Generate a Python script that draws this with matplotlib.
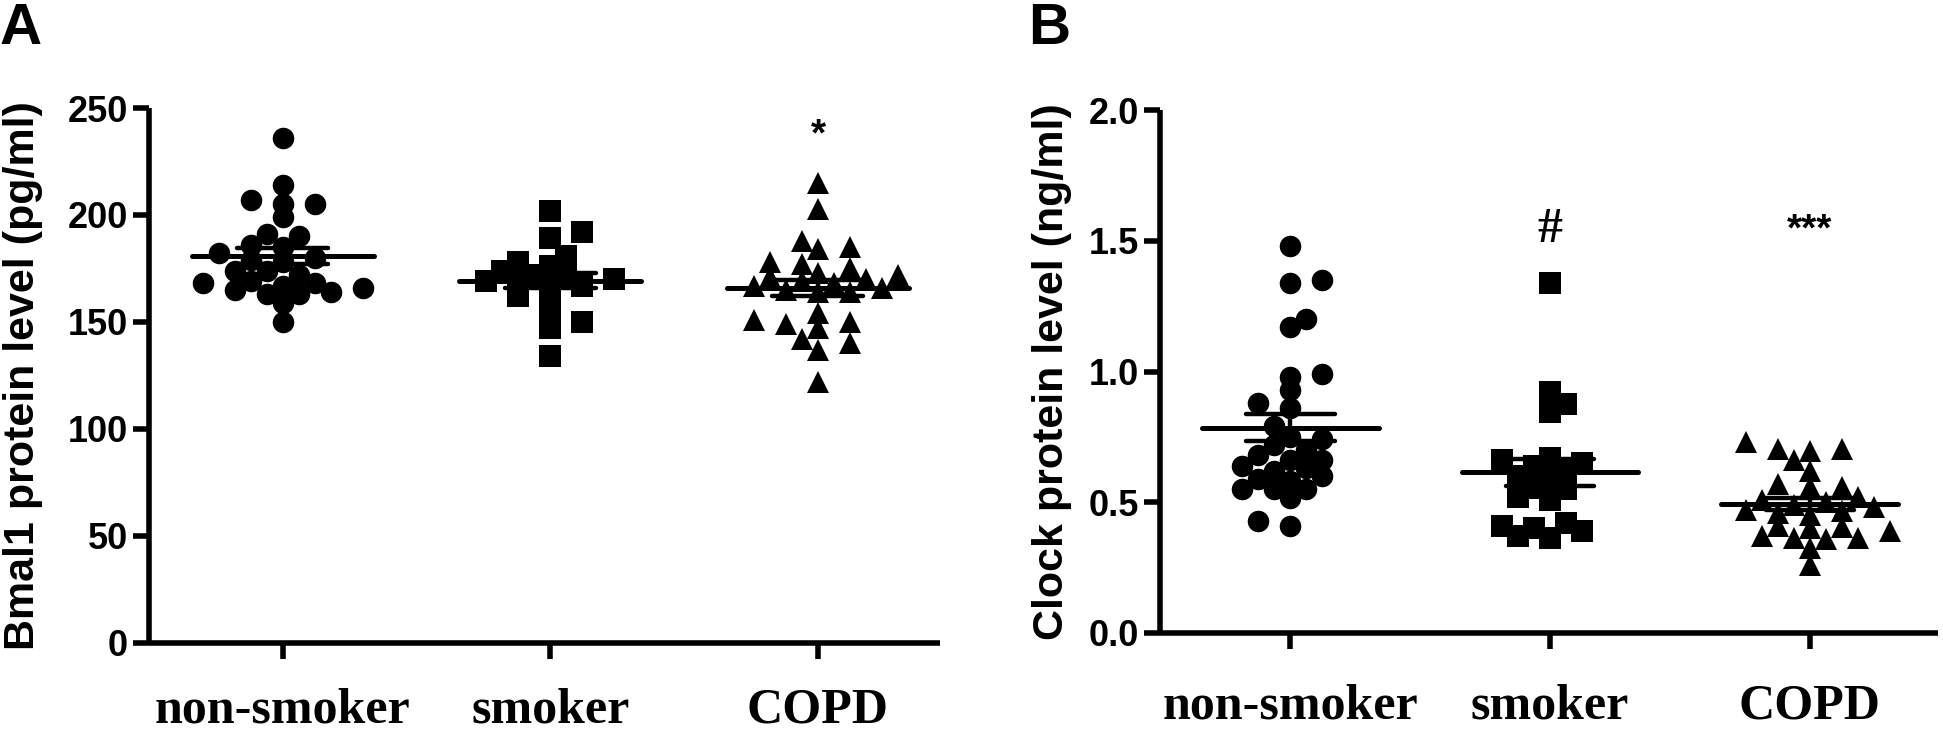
import numpy as np
import matplotlib
matplotlib.use("Agg")
import matplotlib.pyplot as plt

groups = ["non-smoker", "smoker", "COPD"]

bmal1_nonsmoker = [236, 214, 207, 205, 205, 199, 191, 190, 186, 185, 182, 180, 179, 178,
                   174, 174, 169, 168, 168, 167, 166, 165, 164, 163, 163, 159, 150, 172]
bmal1_smoker = [202, 192, 189, 181, 178, 176, 174, 172, 171, 170, 169, 168, 167, 167,
                162, 161, 155, 150, 147, 134]
bmal1_copd = [215, 203, 188, 184, 185, 178, 177, 175, 173, 172, 171, 170, 169, 168,
              167, 166, 165, 164, 164, 154, 150, 151, 147, 149, 140, 142, 137, 122]

clock_nonsmoker = [1.48, 1.34, 1.35, 1.20, 1.17, 0.98, 0.99, 0.93, 0.88, 0.86, 0.79, 0.75,
                   0.74, 0.72, 0.70, 0.68, 0.66, 0.66, 0.64, 0.63, 0.62, 0.60, 0.59, 0.58,
                   0.55, 0.55, 0.55, 0.515, 0.43, 0.41]
clock_smoker = [1.34, 0.92, 0.875, 0.845, 0.67, 0.66, 0.65, 0.64, 0.62, 0.60, 0.59, 0.555,
                0.55, 0.52, 0.51, 0.42, 0.41, 0.40, 0.39, 0.37, 0.365]
clock_copd = [0.73, 0.705, 0.695, 0.705, 0.66, 0.62, 0.57, 0.56, 0.56, 0.52, 0.51, 0.50,
              0.49, 0.48, 0.47, 0.465, 0.46, 0.45, 0.41, 0.405, 0.40, 0.39, 0.365, 0.36,
              0.365, 0.37, 0.325, 0.26]

bmal1_ticks = [0, 50, 100, 150, 200, 250]
clock_ticks = [0.0, 0.5, 1.0, 1.5, 2.0]
clock_ticklabels = ["0.0", "0.5", "1.0", "1.5", "2.0"]

bmal1_marks = ["", "", "*"]
clock_marks = ["", "#", "***"]

markers = ["o", "s", "^"]

W, H = 1943, 730
fig = plt.figure(figsize=(W / 100, H / 100), dpi=100)

SANS = "Liberation Sans"
SERIF = "Liberation Serif"


def swarm_x(ax, xc, values, cx, cy, step_px):
    vals = np.asarray(values, dtype=float)
    pts = ax.transData.transform(np.column_stack([np.full(len(vals), xc), vals]))
    x0 = pts[0, 0]
    ys = pts[:, 1]
    order = np.argsort(ys)
    placed = []
    xs = np.zeros(len(vals))
    for n, i in enumerate(order):
        sgn = 1 if n % 2 == 0 else -1
        cands = [0]
        for k in range(1, 30):
            cands += [sgn * k, -sgn * k]
        for c in cands:
            xcand = x0 + c * step_px
            ok = True
            for (px, py) in placed:
                if ((xcand - px) / cx) ** 2 + ((ys[i] - py) / cy) ** 2 < 1:
                    ok = False
                    break
            if ok:
                break
        placed.append((xcand, ys[i]))
        xs[i] = xcand
    back = ax.transData.inverted().transform(np.column_stack([xs, ys]))
    return back[:, 0]


def make_panel(rect, data, ylim, yticks, yticklabels, ylabel, ylabel_x, letter, letter_x,
               marks, mark_y, mark_sizes, mark_fams, xlim, xpad):
    ax = fig.add_axes(rect)
    ax.set_xlim(*xlim)
    ax.set_ylim(*ylim)
    for s in ("top", "right"):
        ax.spines[s].set_visible(False)
    for s in ("left", "bottom"):
        ax.spines[s].set_linewidth(4)
        ax.spines[s].set_capstyle("butt")
    ax.set_yticks(yticks)
    ax.set_yticklabels(yticklabels, fontfamily=SANS, fontweight="bold", fontsize=26)
    ax.set_xticks(range(len(groups)))
    ax.set_xticklabels(groups, fontfamily=SERIF, fontweight="bold", fontsize=36)
    ax.tick_params(axis="y", length=11.5, width=4, pad=3.5, direction="out")
    ax.tick_params(axis="x", length=11.5, width=4, pad=xpad, direction="out")

    for i, vals in enumerate(data):
        xs = swarm_x(ax, i, vals, cx=20, cy=12, step_px=16)
        ax.plot(xs, vals, linestyle="none", marker=markers[i], ms=15.5,
                color="black", markeredgewidth=0, zorder=3, clip_on=False)
        v = np.asarray(vals, dtype=float)
        m = v.mean()
        sem = v.std(ddof=1) / np.sqrt(len(v))
        ax.hlines(m, i - 0.34, i + 0.34, color="black", lw=3.6, zorder=4, capstyle="round")
        ax.hlines([m - sem, m + sem], i - 0.17, i + 0.17, color="black", lw=3.2, zorder=4,
                  capstyle="round")
        ax.vlines(i, m - sem, m + sem, color="black", lw=3.2, zorder=4)
        if marks[i]:
            ax.text(i, mark_y, marks[i], ha="center", va="center", fontfamily=mark_fams[i],
                    fontweight="bold", fontsize=mark_sizes[i])

    y_c = rect[1] + rect[3] / 2
    fig.text(ylabel_x / W, y_c, ylabel, rotation=90, ha="left", va="center",
             fontfamily=SANS, fontweight="bold", fontsize=31)
    fig.text(letter_x / W, 1 - 2 / H, letter, ha="left", va="top",
             fontfamily=SANS, fontweight="bold", fontsize=42)
    return ax


# Panel A
make_panel([149 / W, 1 - 642.7 / H, (940 - 149) / W, (642.7 - 108) / H],
           [bmal1_nonsmoker, bmal1_smoker, bmal1_copd],
           (0, 250), bmal1_ticks, [str(t) for t in bmal1_ticks],
           "Bmal1 protein level (pg/ml)", 3, "A", 0,
           bmal1_marks, 237, [0, 0, 28], [SANS, SANS, SANS], (-0.50, 2.456), 21)

# Panel B
make_panel([1160 / W, 1 - 633 / H, (1938 - 1160) / W, (633 - 110) / H],
           [clock_nonsmoker, clock_smoker, clock_copd],
           (0, 2.0), clock_ticks, clock_ticklabels,
           "Clock protein level (ng/ml)", 1032, "B", 1028,
           clock_marks, 1.54, [0, 36, 28], [SANS, SERIF, SANS], (-0.502, 2.494), 25)

fig.savefig("out.png", dpi=100)
